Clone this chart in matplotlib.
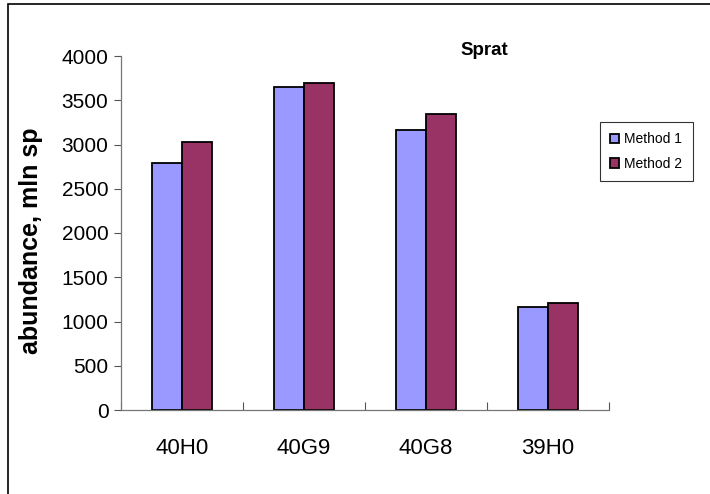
import matplotlib.pyplot as plt
import numpy as np
from matplotlib.patches import Rectangle

plt.rcParams['font.family'] = ['Liberation Sans', 'DejaVu Sans']

# Data
squares = ['40H0', '40G9', '40G8', '39H0']
method1 = [2790, 3645, 3165, 1165]
method2 = [3030, 3690, 3340, 1210]

W, H = 710, 494
fig = plt.figure(figsize=(W / 100, H / 100), dpi=100)

# outer chart border (only top and left visible in the image)
fig.patches.append(Rectangle((8 / W, -0.1), 1.2, (H - 4) / H + 0.1,
                             transform=fig.transFigure, fill=False,
                             edgecolor='black', linewidth=1.2))

ax = fig.add_axes([121 / W, (H - 410) / H, (609 - 121) / W, (410 - 56) / H])

x = np.arange(len(squares))
width = 0.245
ax.bar(x - width / 2, method1, width, color='#9999FF', edgecolor='black',
       linewidth=1.3, label='Method 1')
ax.bar(x + width / 2, method2, width, color='#993366', edgecolor='black',
       linewidth=1.3, label='Method 2')

ax.set_xlim(-0.5, len(squares) - 0.5)
ax.set_ylim(0, 4000)
ax.set_yticks(np.arange(0, 4001, 500))
ax.set_xticks(np.arange(-0.5, len(squares), 1.0))
ax.set_xticklabels([])
ax.set_xticks(x, minor=True)
ax.set_xticklabels(squares, minor=True, fontsize=16)
ax.tick_params(axis='x', which='minor', length=0, pad=20)
ax.tick_params(axis='x', which='major', direction='in', length=6,
               width=0.8, color='#555555')
ax.tick_params(axis='y', direction='out', length=5, width=0.8,
               color='#555555', labelsize=15, pad=4)

for side in ['top', 'right']:
    ax.spines[side].set_visible(False)
for side in ['left', 'bottom']:
    ax.spines[side].set_color('#777777')
    ax.spines[side].set_linewidth(0.9)

fig.text(31 / W, 1 - 241 / H, 'abundance, mln sp', fontsize=18,
         fontweight='bold', rotation=90, ha='center', va='center')
fig.text(484 / W, 1 - 55 / H, 'Sprat', fontsize=13.5, fontweight='bold',
         ha='center', va='baseline')

leg = ax.legend(loc='upper left', bbox_to_anchor=(600 / W, 1 - 122 / H),
                bbox_transform=fig.transFigure, fontsize=10, frameon=True,
                fancybox=False, handlelength=0.65, handleheight=0.65,
                handletextpad=0.35, borderpad=0.75, labelspacing=0.75,
                borderaxespad=0)
leg.get_frame().set_edgecolor('black')
leg.get_frame().set_linewidth(0.8)

fig.savefig('out.png', dpi=100)
